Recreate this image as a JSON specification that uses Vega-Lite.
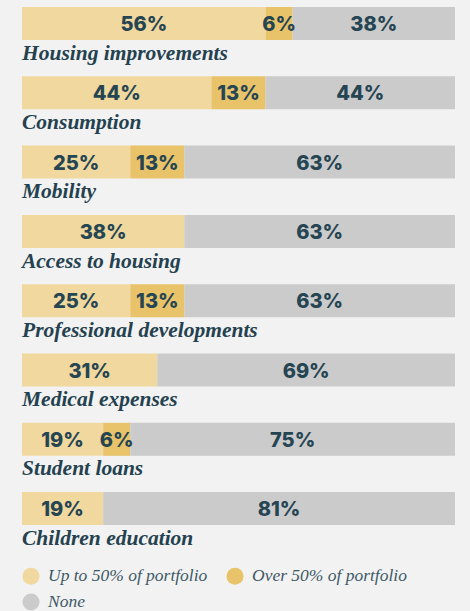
{
  "$schema": "https://vega.github.io/schema/vega-lite/v6.json",
  "width": 433,
  "height": 554.4,
  "padding": {"left": 22, "top": 7, "right": 15, "bottom": 0},
  "background": "#f2f2f2",
  "config": {"view": {"stroke": null}},
  "data": {
    "values": [
      {"cat": "Housing improvements", "seg": "Up to 50% of portfolio", "v": 56.25, "label": "56%"},
      {"cat": "Housing improvements", "seg": "Over 50% of portfolio", "v": 6.25, "label": "6%"},
      {"cat": "Housing improvements", "seg": "None", "v": 37.5, "label": "38%"},
      {"cat": "Consumption", "seg": "Up to 50% of portfolio", "v": 43.75, "label": "44%"},
      {"cat": "Consumption", "seg": "Over 50% of portfolio", "v": 12.5, "label": "13%"},
      {"cat": "Consumption", "seg": "None", "v": 43.75, "label": "44%"},
      {"cat": "Mobility", "seg": "Up to 50% of portfolio", "v": 25, "label": "25%"},
      {"cat": "Mobility", "seg": "Over 50% of portfolio", "v": 12.5, "label": "13%"},
      {"cat": "Mobility", "seg": "None", "v": 62.5, "label": "63%"},
      {"cat": "Access to housing", "seg": "Up to 50% of portfolio", "v": 37.5, "label": "38%"},
      {"cat": "Access to housing", "seg": "None", "v": 62.5, "label": "63%"},
      {"cat": "Professional developments", "seg": "Up to 50% of portfolio", "v": 25, "label": "25%"},
      {"cat": "Professional developments", "seg": "Over 50% of portfolio", "v": 12.5, "label": "13%"},
      {"cat": "Professional developments", "seg": "None", "v": 62.5, "label": "63%"},
      {"cat": "Medical expenses", "seg": "Up to 50% of portfolio", "v": 31.25, "label": "31%"},
      {"cat": "Medical expenses", "seg": "None", "v": 68.75, "label": "69%"},
      {"cat": "Student loans", "seg": "Up to 50% of portfolio", "v": 18.75, "label": "19%"},
      {"cat": "Student loans", "seg": "Over 50% of portfolio", "v": 6.25, "label": "6%"},
      {"cat": "Student loans", "seg": "None", "v": 75, "label": "75%"},
      {"cat": "Children education", "seg": "Up to 50% of portfolio", "v": 18.75, "label": "19%"},
      {"cat": "Children education", "seg": "None", "v": 81.25, "label": "81%"}
    ]
  },
  "encoding": {
    "y": {
      "field": "cat",
      "type": "nominal",
      "sort": ["Housing improvements", "Consumption", "Mobility", "Access to housing", "Professional developments", "Medical expenses", "Student loans", "Children education"],
      "axis": null,
      "scale": {"paddingInner": 0, "paddingOuter": 0}
    }
  },
  "layer": [
    {
      "mark": {"type": "bar", "height": 33, "yOffset": -18.15},
      "encoding": {
        "x": {"field": "v", "type": "quantitative", "stack": "zero", "scale": {"domain": [0, 100]}, "axis": null},
        "color": {
          "field": "seg",
          "type": "nominal",
          "sort": ["Up to 50% of portfolio", "Over 50% of portfolio", "None"],
          "scale": {"domain": ["Up to 50% of portfolio", "Over 50% of portfolio", "None"], "range": ["#f0d89e", "#e8c36a", "#cbcbcb"]},
          "legend": {
            "orient": "none",
            "legendX": 0,
            "legendY": 560,
            "direction": "horizontal",
            "columns": 2,
            "title": null,
            "symbolType": "circle",
            "symbolSize": 290,
            "symbolStrokeWidth": 0,
            "symbolOpacity": 1,
            "labelFont": "Liberation Serif",
            "labelFontStyle": "italic",
            "labelFontSize": 17.5,
            "labelColor": "#3d5966",
            "labelOffset": 8,
            "columnPadding": 18,
            "rowPadding": 8,
            "padding": 0,
            "labelLimit": 300
          }
        },
        "order": {"field": "seg", "sort": "descending"}
      }
    },
    {
      "mark": {"type": "text", "font": "Inter", "fontWeight": 800, "fontSize": 20, "color": "#264553", "baseline": "middle", "yOffset": -16.5},
      "encoding": {
        "x": {"field": "v", "type": "quantitative", "stack": "zero", "bandPosition": 0.5},
        "detail": {"field": "seg"},
        "order": {"field": "seg", "sort": "descending"},
        "text": {"field": "label"}
      }
    },
    {
      "transform": [{"filter": "datum.seg == 'None'"}],
      "mark": {"type": "text", "font": "Liberation Serif", "fontStyle": "italic", "fontWeight": "bold", "fontSize": 21.5, "align": "left", "baseline": "alphabetic", "yOffset": 18, "color": "#24414f"},
      "encoding": {
        "x": {"datum": 0},
        "text": {"field": "cat"}
      }
    }
  ]
}
